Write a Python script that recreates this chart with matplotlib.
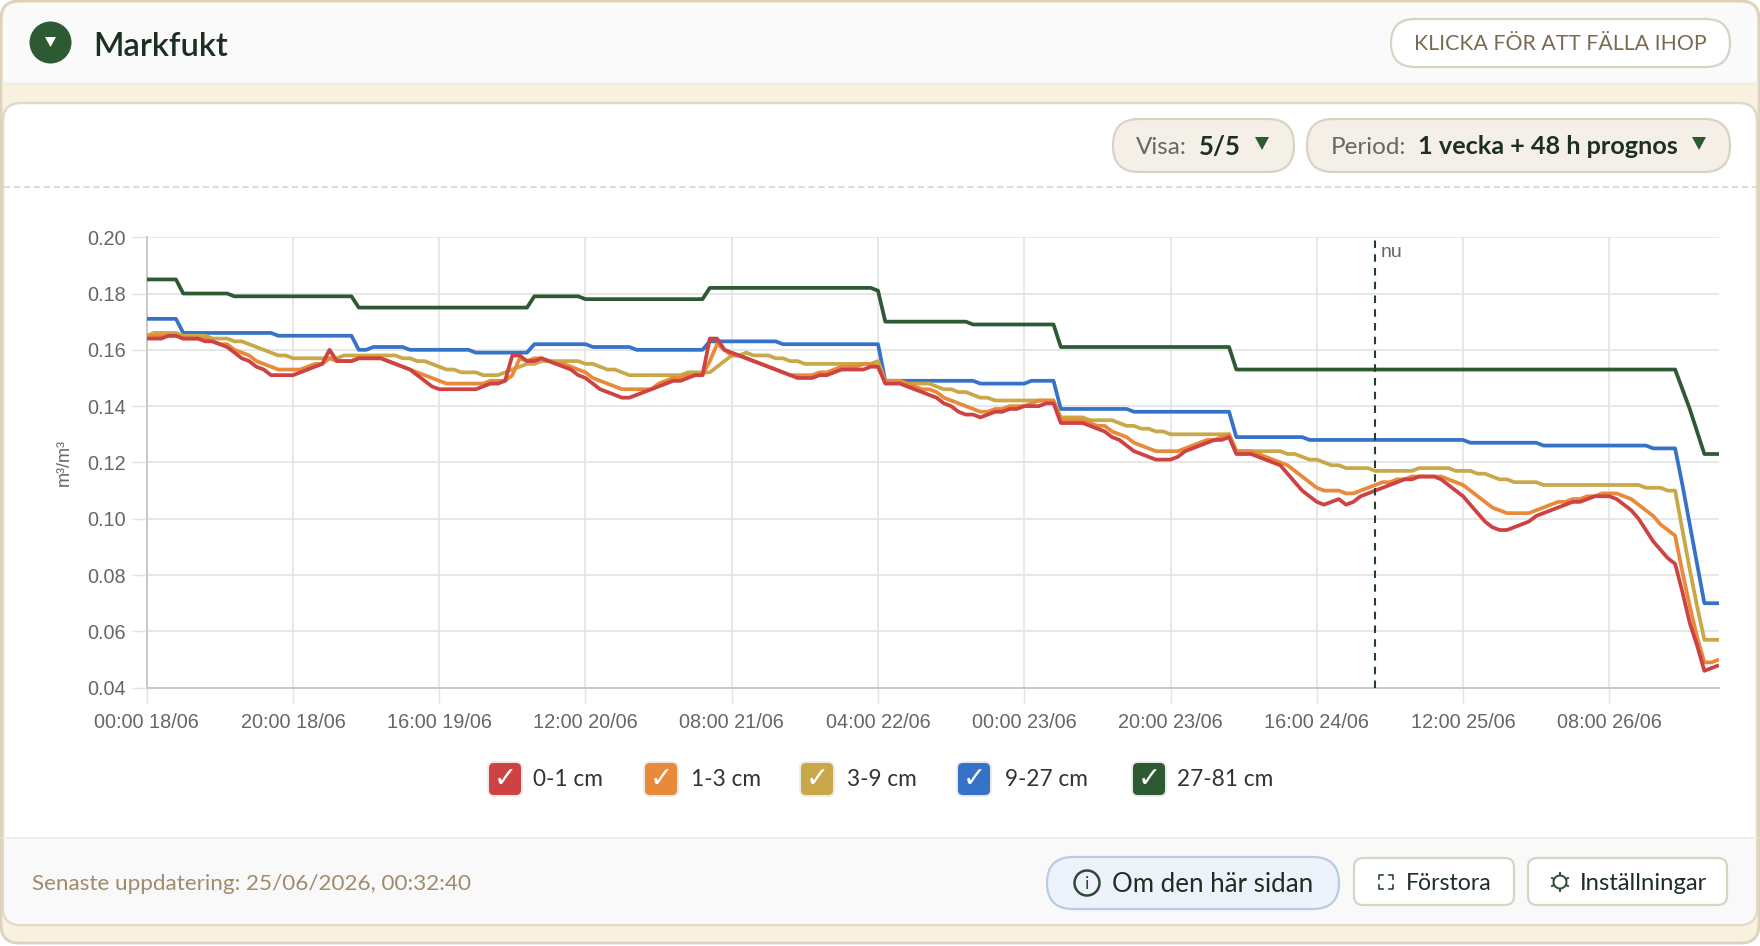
import matplotlib
matplotlib.use('Agg')
import matplotlib.pyplot as plt
from matplotlib.patches import FancyBboxPatch, Circle, Polygon

plt.rcParams['font.family'] = ['Lato', 'DejaVu Sans']

# --------- data, one value per hour from 00:00 18/06

red = [
    .164, .164, .164, .165, .165, .164, .164, .164, .163, .163,
    .162, .161, .159, .157, .156, .154, .153, .151, .151, .151,
    .151, .152, .153, .154, .155, .160, .156, .156, .156, .157,
    .157, .157, .157, .156, .155, .154, .153, .151, .149, .147,
    .146, .146, .146, .146, .146, .146, .147, .148, .148, .149,
    .158, .158, .156, .156, .157, .156, .155, .154, .153, .151,
    .150, .148, .146, .145, .144, .143, .143, .144, .145, .146,
    .147, .148, .149, .149, .150, .151, .151, .164, .164, .160,
    .159, .158, .157, .156, .155, .154, .153, .152, .151, .150,
    .150, .150, .151, .151, .152, .153, .153, .153, .153, .154,
    .154, .148, .148, .148, .147, .146, .145, .144, .143, .141,
    .140, .138, .137, .137, .136, .137, .138, .138, .139, .139,
    .140, .140, .140, .141, .141, .134, .134, .134, .134, .133,
    .132, .131, .129, .128, .126, .124, .123, .122, .121, .121,
    .121, .122, .124, .125, .126, .127, .128, .128, .129, .123,
    .123, .123, .122, .121, .120, .119, .116, .113, .110, .108,
    .106, .105, .106, .107, .105, .106, .108, .109, .110, .111,
    .112, .113, .114, .114, .115, .115, .115, .114, .112, .110,
    .108, .105, .102, .099, .097, .096, .096, .097, .098, .099,
    .101, .102, .103, .104, .105, .106, .106, .107, .108, .108,
    .108, .107, .105, .103, .100, .096, .092, .089, .086, .084,
    .074, .063, .055, .046, .047, .048,
]
orange = [
    .165, .165, .165, .165, .165, .164, .164, .164, .164, .163,
    .162, .162, .160, .159, .158, .156, .155, .154, .153, .153,
    .153, .153, .154, .155, .155, .157, .156, .156, .156, .157,
    .157, .157, .157, .156, .155, .154, .153, .152, .151, .150,
    .149, .148, .148, .148, .148, .148, .148, .149, .149, .149,
    .151, .157, .156, .157, .157, .156, .155, .155, .154, .153,
    .152, .150, .149, .148, .147, .146, .146, .146, .146, .146,
    .148, .149, .150, .150, .151, .151, .151, .156, .162, .160,
    .158, .158, .157, .156, .155, .154, .153, .152, .151, .151,
    .151, .151, .152, .152, .153, .154, .154, .154, .155, .155,
    .154, .149, .149, .149, .148, .147, .146, .146, .145, .143,
    .142, .141, .140, .139, .138, .138, .139, .139, .140, .140,
    .140, .141, .142, .142, .142, .135, .135, .135, .135, .134,
    .133, .133, .131, .130, .129, .127, .126, .125, .124, .124,
    .124, .124, .125, .126, .127, .128, .128, .129, .130, .124,
    .124, .124, .123, .122, .121, .120, .119, .117, .115, .113,
    .111, .110, .110, .110, .109, .109, .110, .111, .112, .113,
    .113, .114, .114, .115, .115, .115, .115, .115, .114, .113,
    .112, .110, .108, .106, .104, .103, .102, .102, .102, .102,
    .103, .104, .105, .106, .106, .107, .107, .108, .108, .109,
    .109, .109, .108, .107, .105, .103, .101, .098, .096, .094,
    .081, .069, .058, .049, .049, .050,
]
tan = [
    .165, .166, .166, .166, .166, .165, .165, .165, .165, .164,
    .164, .164, .163, .163, .162, .161, .160, .159, .158, .158,
    .157, .157, .157, .157, .157, .157, .157, .158, .158, .158,
    .158, .158, .158, .158, .158, .157, .157, .156, .156, .155,
    .154, .153, .153, .152, .152, .152, .151, .151, .151, .152,
    .153, .154, .155, .155, .156, .156, .156, .156, .156, .156,
    .155, .155, .154, .153, .153, .152, .151, .151, .151, .151,
    .151, .151, .151, .151, .152, .152, .152, .152, .154, .156,
    .158, .158, .159, .158, .158, .158, .157, .157, .156, .156,
    .155, .155, .155, .155, .155, .155, .155, .155, .155, .155,
    .156, .149, .149, .149, .148, .148, .148, .148, .147, .146,
    .146, .145, .145, .144, .143, .143, .142, .142, .142, .142,
    .142, .142, .142, .142, .142, .136, .136, .136, .136, .135,
    .135, .135, .135, .134, .133, .133, .132, .132, .131, .131,
    .130, .130, .130, .130, .130, .130, .130, .130, .130, .124,
    .124, .124, .124, .124, .124, .124, .123, .123, .122, .121,
    .121, .120, .119, .119, .118, .118, .118, .118, .117, .117,
    .117, .117, .117, .117, .118, .118, .118, .118, .118, .117,
    .117, .117, .116, .116, .115, .114, .114, .113, .113, .113,
    .113, .112, .112, .112, .112, .112, .112, .112, .112, .112,
    .112, .112, .112, .112, .112, .111, .111, .111, .110, .110,
    .096, .082, .069, .057, .057, .057,
]
blue = ([.171] * 5 + [.166] * 13 + [.165] * 11 + [.160] * 2 + [.161] * 5 + [.160] * 9
        + [.159] * 8 + [.162] * 8 + [.161] * 6 + [.160] * 10 + [.163] * 10 + [.162] * 14
        + [.149] * 13 + [.148] * 7 + [.149] * 4 + [.139] * 10 + [.138] * 14 + [.129] * 10
        + [.128] * 22 + [.127] * 10 + [.126] * 15 + [.125] * 4 + [.112, .098, .084] + [.070] * 3)
green = ([.185] * 5 + [.180] * 7 + [.179] * 17 + [.175] * 24 + [.179] * 7 + [.178] * 17
         + [.182] * 23 + [.181] + [.170] * 12 + [.169] * 12 + [.161] * 24 + [.153] * 61
         + [.146, .139, .131] + [.123] * 3)

series_names = ['0-1 cm', '1-3 cm', '3-9 cm', '9-27 cm', '27-81 cm']
series_colors = ['#cd4343', '#e98a3a', '#c9a84a', '#3672c8', '#2d5a32']
series_values = [red, orange, tan, blue, green]

x_tick_pos = [0, 20, 40, 60, 80, 100, 120, 140, 160, 180, 200]
x_tick_labels = ['00:00 18/06', '20:00 18/06', '16:00 19/06', '12:00 20/06', '08:00 21/06',
                 '04:00 22/06', '00:00 23/06', '20:00 23/06', '16:00 24/06', '12:00 25/06',
                 '08:00 26/06']
y_ticks = [.04, .06, .08, .10, .12, .14, .16, .18, .20]
now_index = 168

W, H = 1760, 946
fig = plt.figure(figsize=(W / 100, H / 100), dpi=100, facecolor='white')

# --------- page chrome, drawn in pixel coordinates
bg = fig.add_axes([0, 0, 1, 1], zorder=0)
bg.set_xlim(0, W)
bg.set_ylim(H, 0)
bg.axis('off')


def box(x0, y0, x1, y1, r, fc, ec='none', lw=0, z=1):
    p = FancyBboxPatch((x0 + r, y0 + r), x1 - x0 - 2 * r, y1 - y0 - 2 * r,
                       boxstyle=f'round,pad={r},rounding_size={r}', fc=fc, ec=ec, lw=lw, zorder=z)
    bg.add_patch(p)


def label(x, y, s, size, color, ha='left', weight='normal', z=5):
    return bg.text(x, y, s, fontsize=size, color=color, ha=ha, va='center', fontweight=weight, zorder=z)


border = '#ddd3bd'
btn_border = '#d9d3c3'

box(1, 1, 1759, 943, 18, '#f9f1e0', border, 2.0, z=1)
# header strip
box(3, 3, 1757, 60, 16, '#fafafa', z=2)
bg.fill_between([3, 1757], 40, 84, color='#fafafa', lw=0, zorder=2)
bg.plot([3, 1757], [84.5, 84.5], color='#f3ece0', lw=1.6, zorder=3)
# inner card
box(3, 103, 1757, 925, 18, 'white', '#e0d9c8', 1.8, z=2)
bg.plot([4, 1756], [187, 187], color='#e0d9c8', lw=1.3, ls=(0, (3.5, 2)), zorder=3)
# footer
box(4, 860, 1756, 924, 16, '#f9f9f9', z=3)
bg.fill_between([4, 1756], 838, 880, color='#f9f9f9', lw=0, zorder=3)
bg.plot([4, 1756], [838, 838], color='#f3efe5', lw=1.4, zorder=3)

# header
bg.add_patch(Circle((50.5, 42.5), 21, fc='#2d5a32', ec='none', zorder=4))
bg.add_patch(Polygon([(45, 37), (56, 37), (50.5, 47)], fc='white', ec='none', zorder=5))
label(93, 47, 'Markfukt', 23.5, '#1d2f22', weight='semibold')

box(1391, 19, 1730, 67, 24, 'white', btn_border, 1.6, z=4)
label(1560.5, 44, 'KLICKA FÖR ATT FÄLLA IHOP', 15.3, '#7a6a50', ha='center')

box(1113, 119, 1294, 172, 26, '#f4f0e8', btn_border, 1.6, z=4)
label(1136, 147, 'Visa:', 17.5, '#666666')
label(1199, 147, '5/5', 18.5, '#1d2f22', weight='bold')
bg.add_patch(Polygon([(1255, 137), (1269, 137), (1262, 150)], fc='#2d5a32', ec='none', zorder=5))

box(1307, 119, 1730, 172, 26, '#f4f0e8', btn_border, 1.6, z=4)
label(1331, 147, 'Period:', 17.5, '#666666')
label(1418, 147, '1 vecka + 48 h prognos', 18.2, '#1d2f22', weight='bold')
bg.add_patch(Polygon([(1692, 137), (1706, 137), (1699, 150)], fc='#2d5a32', ec='none', zorder=5))

# legend
legend_box_x = [488, 644, 800, 957, 1132]
legend_text_x = [533, 691, 847, 1005, 1177]
for name, col, bx, tx in zip(series_names, series_colors, legend_box_x, legend_text_x):
    box(bx, 762, bx + 34, 796, 6, col, '#ececec', 1.4, z=4)
    bg.text(bx + 17, 778.5, '✓', fontsize=20, color='white', ha='center', va='center',
            family='DejaVu Sans', zorder=5)
    label(tx, 779, name, 16.3, '#333333')

# footer
label(32, 884, 'Senaste uppdatering: 25/06/2026, 00:32:40', 16.2, '#a08c6c')

box(1047, 857, 1339, 909, 26, '#edf2fb', '#b9cbe5', 1.6, z=4)
bg.add_patch(Circle((1087, 883), 12.5, fc='none', ec='#2f4a38', lw=1.8, zorder=5))
bg.text(1087, 883.5, 'i', fontsize=13, color='#2f4a38', ha='center', va='center', zorder=5)
label(1112, 884, 'Om den här sidan', 18.6, '#1d2f22')

box(1354, 858, 1514, 905, 9, 'white', btn_border, 1.6, z=4)
for sx, sy in [(-1, -1), (1, -1), (1, 1), (-1, 1)]:
    cx, cy = 1386 + sx * 7, 882 + sy * 7
    bg.plot([cx, cx, cx - sx * 4], [cy - sy * 4, cy, cy], color='#2f4a38', lw=1.2, zorder=5)
label(1406, 883, 'Förstora', 16.6, '#1d2f22')

box(1528, 858, 1727, 905, 9, 'white', btn_border, 1.6, z=4)
bg.add_patch(Circle((1560, 882), 6.5, fc='none', ec='#2f4a38', lw=1.4, zorder=5))
for dx, dy in [(0, -9), (0, 9), (-8, -4), (8, -4), (-8, 4), (8, 4)]:
    bg.plot([1560 + dx * .75, 1560 + dx], [882 + dy * .75, 882 + dy], color='#2f4a38', lw=1.4, zorder=5)
label(1580, 883, 'Inställningar', 17.2, '#1d2f22')

# --------- chart
ax_left, ax_right, ax_top, ax_bottom = 146.7, 1719, 237.2, 687.7
ax = fig.add_axes([ax_left / W, 1 - ax_bottom / H, (ax_right - ax_left) / W, (ax_bottom - ax_top) / H],
                  zorder=2, facecolor='none')

hours = list(range(len(red)))
for vals, col, z in zip(series_values, series_colors, [7, 6, 5, 4, 3]):
    ax.plot(hours, vals, color=col, lw=2.7, zorder=z, solid_joinstyle='round', solid_capstyle='butt')

ax.axvline(now_index, color='#24402b', lw=1.5, ls=(0, (3.6, 3)), zorder=8)
ax.text(now_index + 0.8, .1945, 'nu', fontsize=14, color='#666666', family='Liberation Sans',
        ha='left', va='center')

ax.set_xlim(0, len(red) - 1)
ax.set_ylim(.04, .20)
ax.set_yticks(y_ticks)
ax.set_yticklabels([f'{v:.2f}' for v in y_ticks], family='Liberation Sans')
ax.set_xticks(x_tick_pos)
ax.set_xticklabels(x_tick_labels, family='Liberation Sans')
ax.tick_params(axis='both', labelsize=14.3, labelcolor='#666666', color='#e3e3e3', length=11, width=1)
ax.tick_params(axis='x', pad=7)
ax.tick_params(axis='y', pad=4)
ax.grid(True, color='#e3e3e3', lw=1.2, zorder=0)
ax.set_axisbelow(True)
for side in ['top', 'right']:
    ax.spines[side].set_visible(False)
for side in ['left', 'bottom']:
    ax.spines[side].set_color('#c9c9c9')
    ax.spines[side].set_linewidth(1.4)
ax.set_ylabel('m³/m³', fontsize=13, color='#666666', family='Liberation Sans', labelpad=10)

fig.savefig('out.png', dpi=100)
